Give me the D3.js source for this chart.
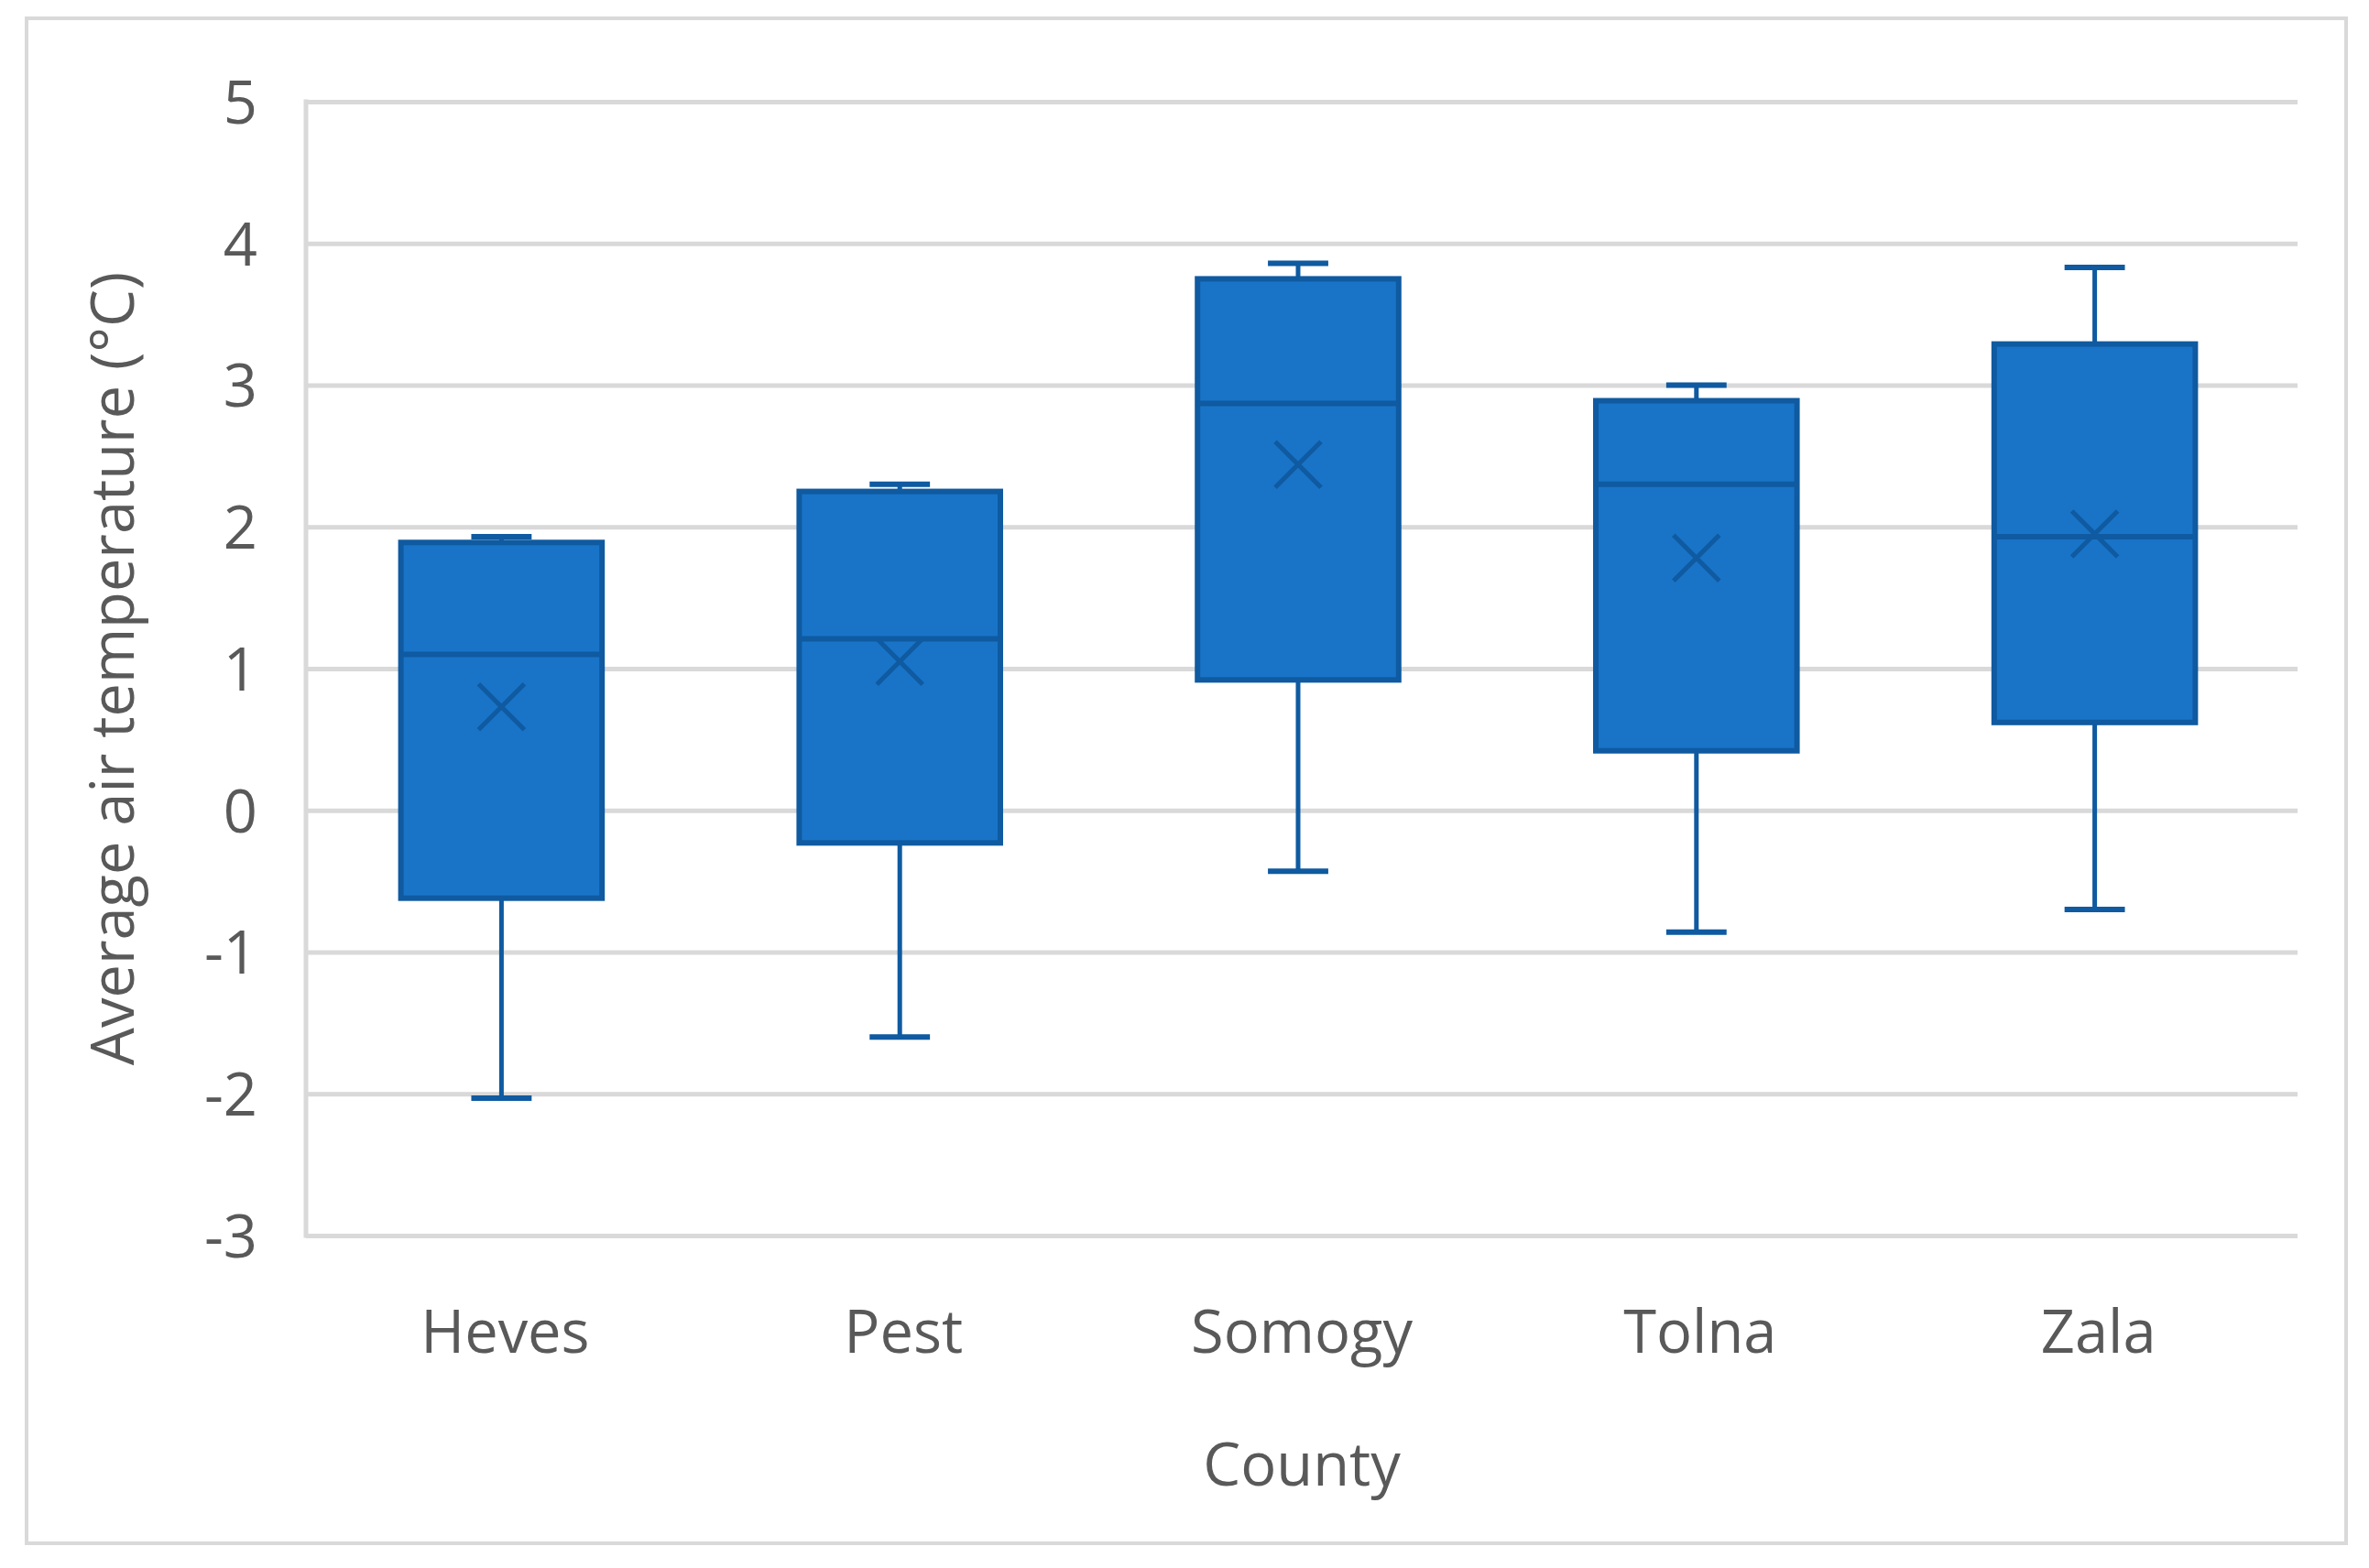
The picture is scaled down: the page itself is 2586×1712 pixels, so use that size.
<!DOCTYPE html>
<html>
<head>
<meta charset="utf-8">
<script src="https://cdn.jsdelivr.net/npm/d3@7"></script>
<style>
  html, body { margin: 0; padding: 0; background: #ffffff; }
  svg { display: block; }
</style>
</head>
<body>
<svg id="chart" width="2586" height="1712"></svg>
<script>
// ---- data ----
const counties = ["Heves", "Pest", "Somogy", "Tolna", "Zala"];
const whiskerMin = [-2.03, -1.60, -0.43, -0.86, -0.70];
const q1         = [-0.62, -0.23, 0.92, 0.42, 0.62];
const median     = [1.10, 1.21, 2.87, 2.30, 1.93];
const q3         = [1.89, 2.25, 3.75, 2.89, 3.29];
const whiskerMax = [1.93, 2.30, 3.86, 3.00, 3.83];
const mean       = [0.73, 1.05, 2.44, 1.78, 1.95];
const yTicks = [-3, -2, -1, 0, 1, 2, 3, 4, 5];
const yTitle = "Average air temperature (°C)";
const xTitle = "County";

// ---- layout ----
const W = 2586, H = 1712;
const plot = { left: 334, right: 2508, top: 111, bottom: 1349 };
const fillColor = "#1974C8";
const strokeColor = "#0F5AA0";
const gridColor = "#D9D9D9";
const textColor = "#595959";
const font = "'Open Sans', 'Noto Sans', sans-serif";

const svg = d3.select("#chart");

// outer frame
svg.append("rect")
  .attr("x", 29).attr("y", 20)
  .attr("width", 2561 - 29).attr("height", 1685 - 20)
  .attr("fill", "#ffffff")
  .attr("stroke", gridColor).attr("stroke-width", 4);

const x = d3.scaleBand().domain(counties).range([plot.left, plot.right]).paddingInner(0).paddingOuter(0);
const y = d3.scaleLinear().domain([-3, 5]).range([plot.bottom, plot.top]);

// gridlines via axis
const gridAxis = d3.axisLeft(y).tickValues(yTicks).tickSize(-(plot.right - plot.left)).tickFormat("");
const g = svg.append("g").attr("transform", `translate(${plot.left},0)`).call(gridAxis);
g.select(".domain").remove();
g.selectAll(".tick line").attr("stroke", gridColor).attr("stroke-width", 5);

// left axis line
svg.append("line")
  .attr("x1", plot.left).attr("x2", plot.left)
  .attr("y1", y(5) - 2.5).attr("y2", y(-3) + 2.5)
  .attr("stroke", gridColor).attr("stroke-width", 5);

// y tick labels
const yLab = d3.axisLeft(y).tickValues(yTicks).tickSize(0).tickPadding(0).tickFormat(d => d3.format("d")(d).replace("−", "-"));
const yl = svg.append("g").attr("transform", `translate(281,0)`).call(yLab);
yl.select(".domain").remove();
yl.selectAll("text")
  .attr("font-family", font).attr("font-size", 65).attr("fill", textColor)
  .attr("dy", "0.36em");

// x category labels
const xLab = d3.axisBottom(x).tickSize(0).tickPadding(0);
const xl = svg.append("g").attr("transform", `translate(0,1477)`).call(xLab);
xl.select(".domain").remove();
xl.selectAll("text")
  .attr("font-family", font).attr("font-size", 65).attr("fill", textColor)
  .attr("dy", 0).attr("y", 0);

// axis titles
svg.append("text")
  .attr("x", (plot.left + plot.right) / 2).attr("y", 1622)
  .attr("text-anchor", "middle")
  .attr("font-family", font).attr("font-size", 65).attr("fill", textColor)
  .text(xTitle);

svg.append("text")
  .attr("transform", `translate(146, ${(plot.top + plot.bottom) / 2}) rotate(-90)`)
  .attr("text-anchor", "middle")
  .attr("font-family", font).attr("font-size", 65).attr("fill", textColor)
  .text(yTitle);

// boxes
const data = counties.map((c, i) => ({
  c, lo: whiskerMin[i], q1: q1[i], med: median[i], q3: q3[i], hi: whiskerMax[i], mean: mean[i]
}));
const boxW = x.bandwidth() * 0.505;
const capW = boxW * 0.3;
const bx = d => x(d.c) + x.bandwidth() / 2 - 4;

const boxes = svg.append("g").selectAll("g").data(data).join("g");

// whiskers
boxes.append("line")
  .attr("x1", bx).attr("x2", bx)
  .attr("y1", d => y(d.hi)).attr("y2", d => y(d.q3))
  .attr("stroke", strokeColor).attr("stroke-width", 5);
boxes.append("line")
  .attr("x1", bx).attr("x2", bx)
  .attr("y1", d => y(d.q1)).attr("y2", d => y(d.lo))
  .attr("stroke", strokeColor).attr("stroke-width", 5);
// caps
boxes.append("line")
  .attr("x1", d => bx(d) - capW / 2).attr("x2", d => bx(d) + capW / 2)
  .attr("y1", d => y(d.hi)).attr("y2", d => y(d.hi))
  .attr("stroke", strokeColor).attr("stroke-width", 6);
boxes.append("line")
  .attr("x1", d => bx(d) - capW / 2).attr("x2", d => bx(d) + capW / 2)
  .attr("y1", d => y(d.lo)).attr("y2", d => y(d.lo))
  .attr("stroke", strokeColor).attr("stroke-width", 6);
// box
boxes.append("rect")
  .attr("x", d => bx(d) - boxW / 2)
  .attr("y", d => y(d.q3))
  .attr("width", boxW)
  .attr("height", d => y(d.q1) - y(d.q3))
  .attr("fill", fillColor).attr("stroke", strokeColor).attr("stroke-width", 6);
// median
boxes.append("line")
  .attr("x1", d => bx(d) - boxW / 2).attr("x2", d => bx(d) + boxW / 2)
  .attr("y1", d => y(d.med)).attr("y2", d => y(d.med))
  .attr("stroke", strokeColor).attr("stroke-width", 6);
// mean marker X
const mk = 25;
boxes.append("path")
  .attr("d", d => {
    const cx = bx(d), cy = y(d.mean);
    return `M${cx - mk},${cy - mk}L${cx + mk},${cy + mk}M${cx - mk},${cy + mk}L${cx + mk},${cy - mk}`;
  })
  .attr("fill", "none").attr("stroke", strokeColor).attr("stroke-width", 5);
</script>
</body>
</html>
